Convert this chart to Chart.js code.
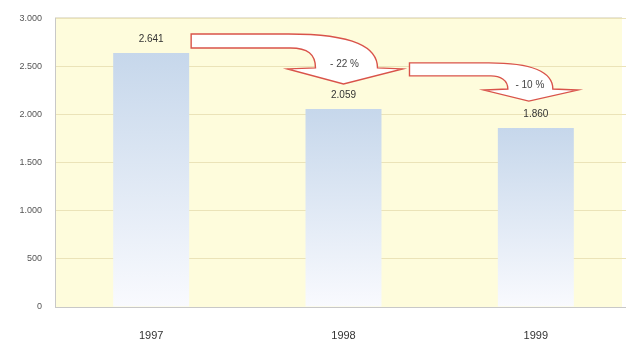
<!DOCTYPE html>
<html>
<head>
<meta charset="utf-8">
<script src="https://cdn.jsdelivr.net/npm/chart.js@4/dist/chart.umd.min.js"></script>
<style>
html,body{margin:0;padding:0;background:#fff;overflow:hidden;width:626px;height:346px;}
canvas{display:block;}
</style>
</head>
<body>
<canvas id="c" width="632" height="346"></canvas>
<script>
const categories = ['1997', '1998', '1999'];
const values = [2641, 2059, 1860];
const yTicks = [0, 500, 1000, 1500, 2000, 2500, 3000];
const changeLabels = ['- 22 %', '- 10 %'];

const fmt = v => String(v).replace(/\B(?=(\d{3})+(?!\d))/g, '.');
const FONT = '"Liberation Sans", Arial, sans-serif';

const bgPlugin = {
  id: 'bg',
  beforeDraw(chart) {
    const {ctx, chartArea: a} = chart;
    ctx.save();
    ctx.fillStyle = '#fefcdc';
    const r = Math.min(a.right, 622);
    ctx.fillRect(a.left, a.top, r - a.left, a.bottom - a.top);
    ctx.strokeStyle = '#d8d4c0';
    ctx.lineWidth = 1;
    ctx.beginPath();
    ctx.moveTo(a.left, a.top - 0.5);
    ctx.lineTo(r, a.top - 0.5);
    ctx.stroke();
    ctx.restore();
  }
};

function drawArrow(ctx, p, label) {
  ctx.save();
  ctx.beginPath();
  ctx.moveTo(p.x0, p.yTop);
  ctx.lineTo(p.xo, p.yTop);
  ctx.bezierCurveTo(p.xo + (p.stemR - p.xo) * 0.75, p.yTop, p.stemR, p.yTop + (p.yHead - p.yTop) * 0.4, p.stemR, p.yHead);
  ctx.lineTo(p.wingR, p.yHead + 1);
  ctx.lineTo(p.tipX, p.tipY);
  ctx.lineTo(p.wingL, p.yHead + 1);
  ctx.lineTo(p.stemL, p.yHead);
  ctx.bezierCurveTo(p.stemL, p.yBot + (p.yHead - p.yBot) * 0.3, p.stemL - 8, p.yBot, p.xi, p.yBot);
  ctx.lineTo(p.x0, p.yBot);
  ctx.closePath();
  ctx.fillStyle = '#ffffff';
  ctx.fill();
  ctx.strokeStyle = '#d9534a';
  ctx.lineWidth = 1.4;
  ctx.stroke();
  ctx.fillStyle = '#444';
  ctx.font = '10px ' + FONT;
  ctx.textAlign = 'center';
  ctx.textBaseline = 'middle';
  ctx.fillText(label, p.tipX + 1, p.yHead - 4);
  ctx.restore();
}

const overlayPlugin = {
  id: 'overlay',
  afterDatasetsDraw(chart) {
    const {ctx} = chart;
    const bars = chart.getDatasetMeta(0).data;
    ctx.save();
    ctx.fillStyle = '#333';
    ctx.font = '10px ' + FONT;
    ctx.textAlign = 'center';
    ctx.textBaseline = 'middle';
    bars.forEach((b, i) => ctx.fillText(fmt(values[i]), b.x, b.y - 14));
    ctx.restore();
    const half = b => b.width / 2;
    const b0 = bars[0], b1 = bars[1], b2 = bars[2];
    let t = b1.x, ty = b1.y - 25;
    drawArrow(ctx, {
      x0: b0.x + half(b0) + 2, yTop: b0.y - 19, yBot: b0.y - 5,
      xo: t - 55, xi: t - 53, stemL: t - 28, stemR: t + 34,
      yHead: ty - 16, wingL: t - 56, wingR: t + 59, tipX: t, tipY: ty
    }, changeLabels[0]);
    t = b2.x - 7; ty = b2.y - 27;
    drawArrow(ctx, {
      x0: b1.x + half(b1) + 28, yTop: b1.y - 46, yBot: b1.y - 33,
      xo: t - 40, xi: t - 38, stemL: t - 21, stemR: t + 24,
      yHead: ty - 12, wingL: t - 45, wingR: t + 49, tipX: t, tipY: ty
    }, changeLabels[1]);
  }
};

new Chart(document.getElementById('c'), {
  type: 'bar',
  data: {
    labels: categories,
    datasets: [{
      data: values,
      backgroundColor: (c) => {
        const chart = c.chart;
        const {ctx, chartArea} = chart;
        if (!chartArea) return '#c8d8ec';
        const y = chart.scales.y;
        const top = y.getPixelForValue(values[c.dataIndex] || 0);
        const bot = y.getPixelForValue(0);
        const g = ctx.createLinearGradient(0, top, 0, bot);
        g.addColorStop(0, '#c6d7eb');
        g.addColorStop(1, '#f9fafe');
        return g;
      },
      borderWidth: 0,
      categoryPercentage: 1,
      barPercentage: 0.395
    }]
  },
  options: {
    responsive: false,
    animation: false,
    layout: { padding: { top: 16, right: 0, left: 0, bottom: 0 } },
    plugins: { legend: { display: false }, tooltip: { enabled: false } },
    scales: {
      x: {
        grid: { display: false, drawTicks: false },
        border: { display: true, color: '#c8c8c8', width: 1 },
        ticks: { color: '#333', font: { family: FONT, size: 11 }, padding: 22 },
        afterFit: s => { s.height = 39; }
      },
      y: {
        min: 0, max: 3000,
        afterBuildTicks: s => { s.ticks = yTicks.map(v => ({ value: v })); },
        grid: { color: '#ebe3b8', drawTicks: false },
        border: { display: true, color: '#c8c8c8', width: 1 },
        ticks: { color: '#555', font: { family: FONT, size: 9 }, padding: 13, callback: v => fmt(v) },
        afterFit: s => { s.width = 55; }
      }
    }
  },
  plugins: [bgPlugin, overlayPlugin]
});
</script>
</body>
</html>
